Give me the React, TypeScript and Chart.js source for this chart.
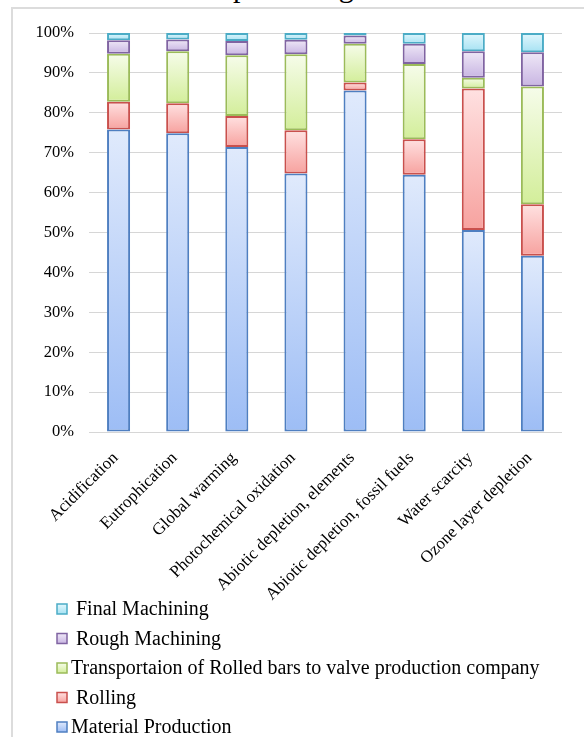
import React, { useEffect, useRef } from 'react';
import { Chart, registerables } from 'chart.js';

Chart.register(...registerables);

const titleText = 'Contribution of impact categories';

const categories = [
  'Acidification',
  'Eutrophication',
  'Global warming',
  'Photochemical oxidation',
  'Abiotic depletion, elements',
  'Abiotic depletion, fossil fuels',
  'Water scarcity',
  'Ozone layer depletion',
];

const materialProduction = [75.8, 74.9, 71.4, 64.8, 85.6, 64.5, 50.6, 44.2];
const rolling = [7.0, 7.5, 7.8, 10.8, 2.0, 8.9, 35.5, 12.9];
const transportation = [12.0, 13.0, 15.2, 19.1, 9.7, 18.8, 2.7, 29.5];
const roughMachining = [3.4, 3.0, 3.6, 3.6, 2.1, 5.1, 6.6, 8.6];
const finalMachining = [1.8, 1.6, 2.0, 1.7, 0.6, 2.7, 4.6, 4.8];

const seriesLabels = [
  'Material Production',
  ' Rolling',
  'Transportaion of Rolled bars to valve production company',
  ' Rough Machining',
  ' Final Machining',
];

const yTickValues = [0, 10, 20, 30, 40, 50, 60, 70, 80, 90, 100];

const series = [materialProduction, rolling, transportation, roughMachining, finalMachining];

const palette = [
  { top: '#e0eafc', bottom: '#9dbdf5', border: '#4f7fc1' },
  { top: '#ffe1e1', bottom: '#f7a29f', border: '#c9504d' },
  { top: '#f6fcea', bottom: '#d3ee9a', border: '#9bbb59' },
  { top: '#efe8f7', bottom: '#c8b5e2', border: '#8064a2' },
  { top: '#e2f7fd', bottom: '#a6e2f3', border: '#4bacc6' },
];

const SERIF = '"Liberation Serif", "Times New Roman", serif';

function gradientFor(dsIndex: number) {
  return (ctx: any) => {
    const chart = ctx.chart;
    const c = palette[dsIndex];
    if (ctx.type !== 'data' || !chart.chartArea || !chart.scales || !chart.scales.y) return c.bottom;
    const i = ctx.dataIndex;
    let base = 0;
    for (let d = 0; d < dsIndex; d++) base += series[d][i];
    const top = base + series[dsIndex][i];
    const y = chart.scales.y;
    const y0 = y.getPixelForValue(top);
    const y1 = y.getPixelForValue(base);
    if (!isFinite(y0) || !isFinite(y1) || y0 === y1) return c.bottom;
    const g = chart.ctx.createLinearGradient(0, y0, 0, y1);
    g.addColorStop(0, c.top);
    g.addColorStop(1, c.bottom);
    return g;
  };
}

const stackLegend = {
  id: 'stackLegend',
  afterDraw(chart: any) {
    const ctx = chart.ctx;
    const ds = chart.data.datasets;
    ctx.save();
    ctx.font = '20px ' + SERIF;
    ctx.textBaseline = 'middle';
    ctx.textAlign = 'left';
    const x0 = 57;
    const y0 = 609;
    const step = 29.5;
    const box = 10;
    for (let k = 0; k < ds.length; k++) {
      const idx = ds.length - 1 - k;
      const d = ds[idx];
      const c = palette[idx];
      const cy = y0 + k * step;
      const g = ctx.createLinearGradient(0, cy - box / 2, 0, cy + box / 2);
      g.addColorStop(0, c.top);
      g.addColorStop(1, c.bottom);
      ctx.fillStyle = g;
      ctx.fillRect(x0, cy - box / 2, box, box);
      ctx.strokeStyle = c.border;
      ctx.lineWidth = 1.5;
      ctx.strokeRect(x0, cy - box / 2, box, box);
      ctx.fillStyle = '#000';
      ctx.fillText(d.label, x0 + 14, cy + 1);
    }
    ctx.restore();
  },
};

export default function App() {
  const canvasRef = useRef<HTMLCanvasElement | null>(null);

  useEffect(() => {
    const canvas = canvasRef.current;
    if (!canvas) return;
    const chart = new Chart(canvas, {
      type: 'bar',
      data: {
        labels: categories,
        datasets: series.map((vals, i) => ({
          label: seriesLabels[i],
          data: vals,
          backgroundColor: gradientFor(i),
          borderColor: palette[i].border,
          borderWidth: 2,
          borderSkipped: false,
          barPercentage: 0.39,
          categoryPercentage: 1,
        })),
      },
      options: {
        responsive: false,
        animation: false,
        devicePixelRatio: 1,
        layout: { padding: { left: 0, right: 22, top: 33, bottom: 125 } },
        plugins: {
          legend: { display: false },
          tooltip: { enabled: false },
          title: { display: false },
        },
        scales: {
          x: {
            stacked: true,
            grid: { display: false, drawTicks: false },
            border: { display: false },
            ticks: {
              autoSkip: false,
              minRotation: 45,
              maxRotation: 45,
              padding: 16,
              labelOffset: -3,
              color: '#000',
              font: { family: SERIF, size: 17 },
            },
            afterFit: (scale: any) => {
              scale.height = 180;
            },
          },
          y: {
            stacked: true,
            min: 0,
            max: 100,
            afterBuildTicks: (scale: any) => {
              scale.ticks = yTickValues.map((v) => ({ value: v }));
            },
            grid: { color: '#d6d6d6', lineWidth: 1, drawTicks: false },
            border: { display: false },
            ticks: {
              padding: 15,
              color: '#000',
              font: { family: SERIF, size: 16.5 },
              callback: (v: any) => v + '%',
            },
            afterFit: (scale: any) => {
              scale.width = 89;
            },
          },
        },
      },
      plugins: [stackLegend],
    });
    return () => chart.destroy();
  }, []);

  return (
    <div
      style={{
        position: 'absolute',
        left: 0,
        top: 0,
        width: 584,
        height: 737,
        overflow: 'hidden',
        background: '#fff',
      }}
    >
      <div
        style={{
          position: 'absolute',
          left: 8,
          top: -28,
          fontFamily: SERIF,
          fontSize: 30,
          lineHeight: '30px',
          whiteSpace: 'nowrap',
          color: '#000',
        }}
      >
        {titleText}
      </div>
      <div
        style={{
          position: 'absolute',
          left: 11,
          top: 7,
          width: 700,
          height: 800,
          borderLeft: '2px solid #dcdcdc',
          borderTop: '2px solid #dcdcdc',
        }}
      />
      <canvas
        ref={canvasRef}
        width={584}
        height={737}
        style={{ position: 'absolute', left: 0, top: 0, width: 584, height: 737 }}
      />
    </div>
  );
}
